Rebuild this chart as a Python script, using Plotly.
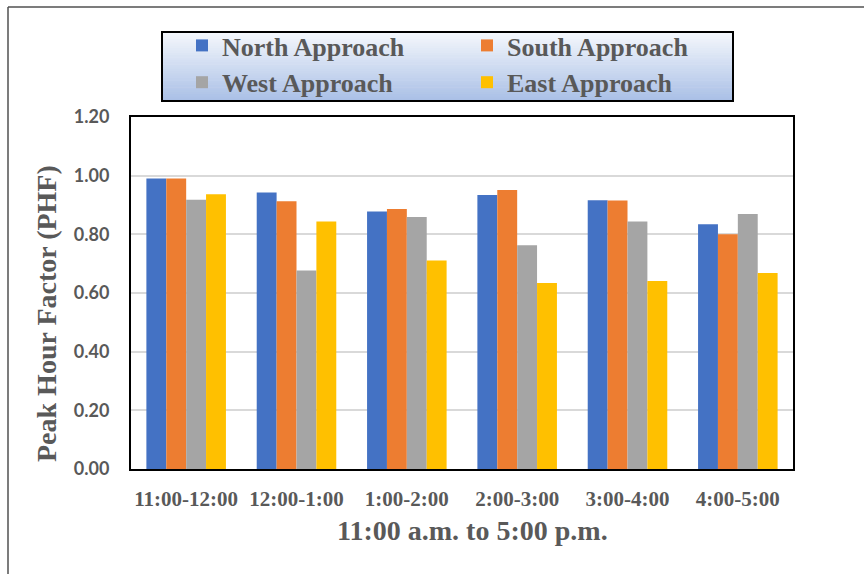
import plotly.graph_objects as go

# Hourly intervals between 11:00 a.m. and 5:00 p.m.
periods = ["11:00-12:00", "12:00-1:00", "1:00-2:00", "2:00-3:00", "3:00-4:00", "4:00-5:00"]

# Peak hour factor per approach
north = [0.99, 0.943, 0.878, 0.934, 0.916, 0.834]
south = [0.99, 0.913, 0.886, 0.951, 0.915, 0.800]
west = [0.918, 0.677, 0.859, 0.763, 0.844, 0.869]
east = [0.937, 0.844, 0.711, 0.634, 0.641, 0.668]

series = [
    ("North Approach", north, "#4472C4"),
    ("South Approach", south, "#ED7D31"),
    ("West Approach", west, "#A5A5A5"),
    ("East Approach", east, "#FFC000"),
]

y_ticks = [0.0, 0.2, 0.4, 0.6, 0.8, 1.0, 1.2]

x_title = "11:00 a.m. to 5:00 p.m."
y_title = "Peak Hour Factor (PHF)"

W, H = 864, 574
ML, MR, MT, MB = 131, 71, 117, 105
PW, PH = W - ML - MR, H - MT - MB

SERIF = "Liberation Serif, Times New Roman, serif"
TEXT = "#595959"


def px_x(px):
    return (px - ML) / PW


def px_y(py):
    return (H - MB - py) / PH


fig = go.Figure()
for name, vals, color in series:
    fig.add_trace(go.Bar(
        x=periods, y=vals, name=name,
        marker=dict(color=color, line=dict(width=0)),
    ))

shapes = []
# Gradient background of the legend box
x0, x1, y0, y1 = 162, 733, 32, 101
top_rgb = (0xF4, 0xF7, 0xFC)
bot_rgb = (0xAA, 0xC0, 0xE6)
steps = 30
for i in range(steps):
    t = i / (steps - 1)
    c = tuple(round(a + (b - a) * t) for a, b in zip(top_rgb, bot_rgb))
    ya = y0 + (y1 - y0) * i / steps
    yb = y0 + (y1 - y0) * (i + 1) / steps
    shapes.append(dict(
        type="rect", xref="paper", yref="paper", layer="below",
        x0=px_x(x0), x1=px_x(x1), y0=px_y(ya), y1=px_y(yb + 0.5),
        fillcolor="rgb(%d,%d,%d)" % c, line=dict(width=0),
    ))
shapes.append(dict(
    type="rect", xref="paper", yref="paper",
    x0=px_x(x0), x1=px_x(x1), y0=px_y(y0), y1=px_y(y1),
    line=dict(color="#000000", width=2), fillcolor="rgba(0,0,0,0)",
))
# Outer frame (left and top edges)
shapes.append(dict(type="line", xref="paper", yref="paper",
                   x0=px_x(8), x1=px_x(8), y0=px_y(7), y1=px_y(H),
                   line=dict(color="#505050", width=1.5)))
shapes.append(dict(type="line", xref="paper", yref="paper",
                   x0=px_x(8), x1=px_x(W), y0=px_y(7), y1=px_y(7),
                   line=dict(color="#505050", width=1.5)))

title_font = dict(family=SERIF, size=28, color=TEXT, weight="bold")
annotations = [
    dict(text=x_title, xref="paper", yref="paper",
         x=px_x(472), y=px_y(530), xanchor="center", yanchor="middle",
         showarrow=False, font=title_font),
    dict(text=y_title, xref="paper", yref="paper",
         x=px_x(46), y=px_y(313), xanchor="center", yanchor="middle",
         textangle=-90, showarrow=False, font=title_font),
]

fig.update_layout(
    width=W, height=H,
    margin=dict(l=ML, r=MR, t=MT, b=MB, autoexpand=False),
    paper_bgcolor="white", plot_bgcolor="white",
    barmode="group", bargap=0.279, bargroupgap=0,
    shapes=shapes, annotations=annotations,
    legend=dict(
        orientation="h",
        x=px_x(182), xanchor="left",
        y=px_y(22), yanchor="top",
        bgcolor="rgba(0,0,0,0)", borderwidth=0,
        entrywidth=240, entrywidthmode="pixels",
        font=dict(family=SERIF, size=26, color=TEXT, weight="bold"),
        tracegroupgap=0,
    ),
    xaxis=dict(
        type="category",
        showline=True, mirror=True, linecolor="#000000", linewidth=2,
        ticks="", ticklabelstandoff=10,
        tickfont=dict(family=SERIF, size=21, color=TEXT, weight="bold"),
    ),
    yaxis=dict(
        range=[0, 1.2], tickvals=y_ticks, tickformat=".2f",
        showline=True, mirror=True, linecolor="#000000", linewidth=2,
        showgrid=True, gridcolor="#D9D9D9", gridwidth=1.5,
        zeroline=False, ticks="", ticklabelstandoff=16,
        tickfont=dict(family="Lato, Open Sans, sans-serif", size=18, color=TEXT, weight="bold"),
    ),
)

fig.write_html("out.html")
